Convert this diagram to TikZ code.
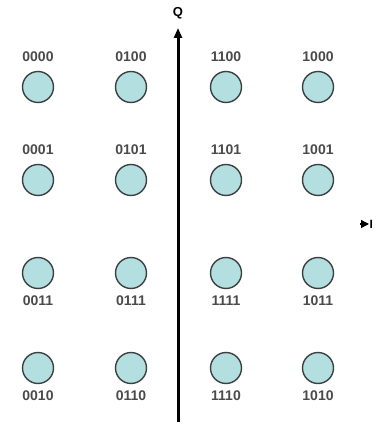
\documentclass[tikz,border=0pt]{standalone}
\usepackage{fontspec}
\setmainfont{Liberation Sans}
\usetikzlibrary{arrows.meta}
\definecolor{ptfill}{HTML}{B4DFE0}
\definecolor{ptedge}{HTML}{3A3F3F}
\definecolor{lbl}{HTML}{4A4A4A}
\tikzset{
  pt/.style={circle, draw=ptedge, line width=1.4pt, fill=ptfill, minimum size=31pt, inner sep=0pt},
  bits/.style={font=\bfseries\fontsize{14}{14}\selectfont, text=lbl, inner sep=0pt},
  axis/.style={line width=3pt, -{Triangle[length=10pt,width=8pt]}}
}
\begin{document}
\begin{tikzpicture}[x=1pt,y=1pt]
\useasboundingbox (0,0) rectangle (377,425);
% constellation points (column x, row y)
\foreach \c/\x in {1/38,2/131,3/226,4/318}{
  \foreach \r/\y in {1/338,2/245,3/152,4/57}{
    \node[pt] (p\r\c) at (\x,\y) {};
  }
}
% Gray-coded labels: upper rows above, lower rows below
\node[bits, above=9pt] at (p11.north) {0000};
\node[bits, above=9pt] at (p12.north) {0100};
\node[bits, above=9pt] at (p13.north) {1100};
\node[bits, above=9pt] at (p14.north) {1000};
\node[bits, above=9pt] at (p21.north) {0001};
\node[bits, above=9pt] at (p22.north) {0101};
\node[bits, above=9pt] at (p23.north) {1101};
\node[bits, above=9pt] at (p24.north) {1001};
\node[bits, below=6pt] at (p31.south) {0011};
\node[bits, below=6pt] at (p32.south) {0111};
\node[bits, below=6pt] at (p33.south) {1111};
\node[bits, below=6pt] at (p34.south) {1011};
\node[bits, below=6pt] at (p41.south) {0010};
\node[bits, below=6pt] at (p42.south) {0110};
\node[bits, below=6pt] at (p43.south) {1110};
\node[bits, below=6pt] at (p44.south) {1010};
% quadrature axis
\coordinate (qbot) at (178,3);
\coordinate (qtop) at (178,397);
\draw[axis] (qbot) -- (qtop);
\node[font=\bfseries\fontsize{13}{13}\selectfont] (qlab) at (178,412) {Q};
% in-phase axis end
\coordinate (ia) at (360,201);
\coordinate (ib) at (369,201);
\draw[-{Triangle[length=8pt,width=8pt]}, line width=1.2pt] (ia) -- (ib);
\node[font=\bfseries\fontsize{12}{12}\selectfont, anchor=west, inner sep=0pt] (ilab) at (369.5,201) {I};
\end{tikzpicture}
\end{document}
